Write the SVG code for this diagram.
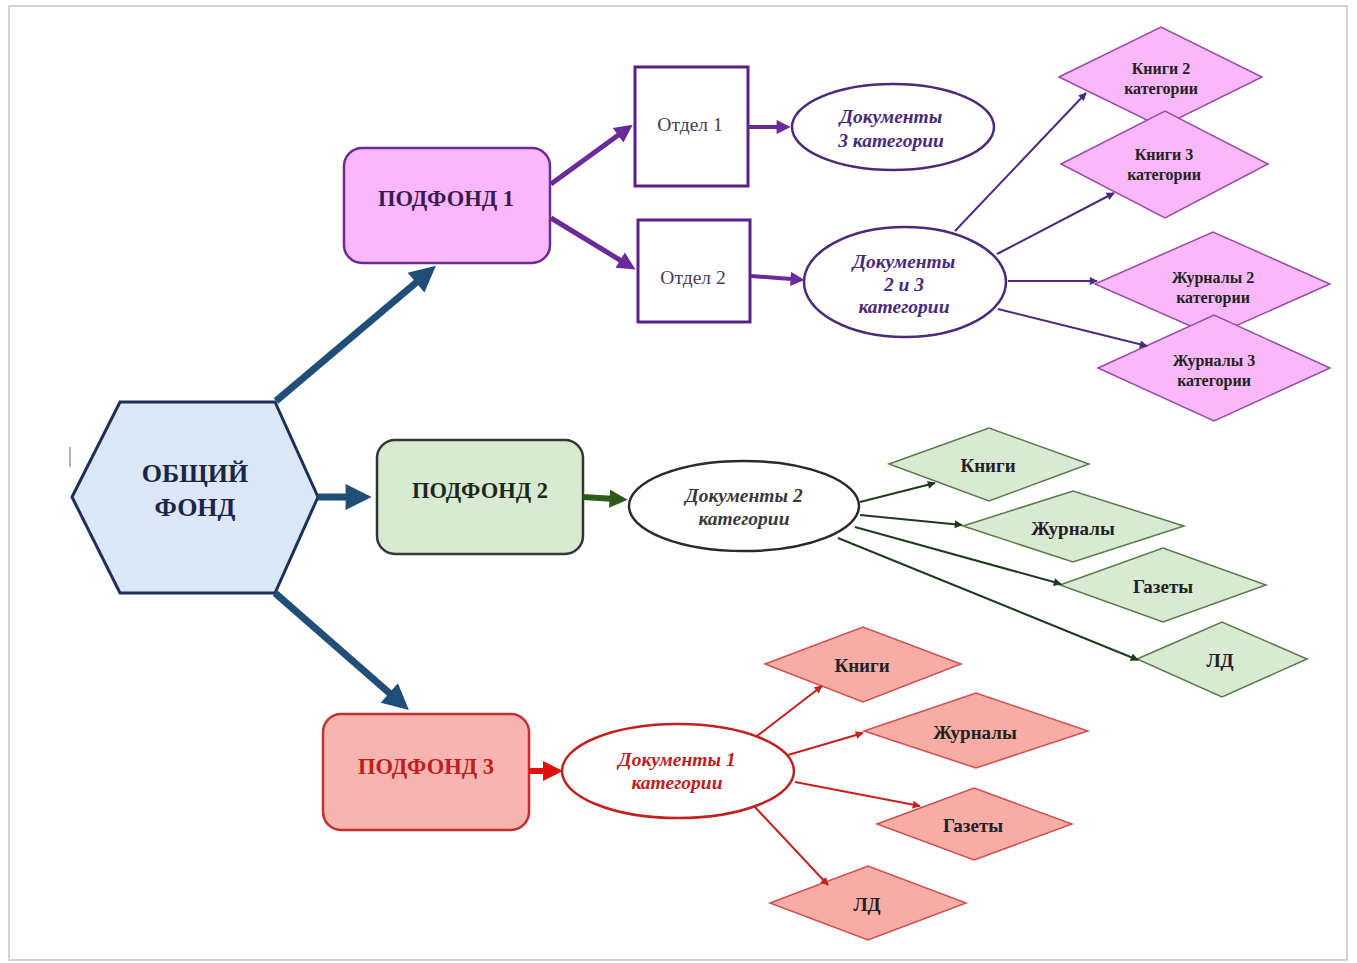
<svg xmlns="http://www.w3.org/2000/svg" width="1357" height="963" viewBox="0 0 1357 963">
<style>
.t{font-family:"Liberation Serif","Times New Roman",serif;text-anchor:middle;dominant-baseline:central}
.b{font-weight:bold}
.i{font-style:italic;font-weight:bold}
.dia{font-size:16px;font-weight:bold;fill:#222}
.dia2{font-size:19px;font-weight:bold;fill:#222}
.pd{font-size:22.5px;font-weight:bold}
.ell{font-size:19.5px}
</style>
<defs>
<marker id="mBlue" viewBox="0 0 10 10" refX="3" refY="5" markerUnits="userSpaceOnUse" markerWidth="28" markerHeight="26" orient="auto"><path d="M0,0 L10,5 L0,10 z" fill="#1f4e79"/></marker>
<marker id="mPurT" viewBox="0 0 10 10" refX="3" refY="5" markerUnits="userSpaceOnUse" markerWidth="22" markerHeight="18" orient="auto"><path d="M0,0 L10,5 L0,10 z" fill="#6a2a9a"/></marker>
<marker id="mPurM" viewBox="0 0 10 10" refX="3" refY="5" markerUnits="userSpaceOnUse" markerWidth="16" markerHeight="14" orient="auto"><path d="M0,0 L10,5 L0,10 z" fill="#6a2a9a"/></marker>
<marker id="mGrnT" viewBox="0 0 10 10" refX="3" refY="5" markerUnits="userSpaceOnUse" markerWidth="20" markerHeight="18" orient="auto"><path d="M0,0 L10,5 L0,10 z" fill="#2d5a1b"/></marker>
<marker id="mRedT" viewBox="0 0 10 10" refX="3" refY="5" markerUnits="userSpaceOnUse" markerWidth="20" markerHeight="20" orient="auto"><path d="M0,0 L10,5 L0,10 z" fill="#e01010"/></marker>
<marker id="mPur" viewBox="0 0 10 10" refX="9" refY="5" markerUnits="userSpaceOnUse" markerWidth="11" markerHeight="8" orient="auto"><path d="M0,0 L10,5 L0,10 z" fill="#4b2a7b"/></marker>
<marker id="mGrn" viewBox="0 0 10 10" refX="9" refY="5" markerUnits="userSpaceOnUse" markerWidth="11" markerHeight="8" orient="auto"><path d="M0,0 L10,5 L0,10 z" fill="#1f3a1f"/></marker>
<marker id="mRed" viewBox="0 0 10 10" refX="9" refY="5" markerUnits="userSpaceOnUse" markerWidth="11" markerHeight="8" orient="auto"><path d="M0,0 L10,5 L0,10 z" fill="#c42020"/></marker>
</defs>
<rect x="0" y="0" width="1357" height="963" fill="#ffffff"/>
<rect x="9" y="6" width="1338" height="954" fill="#ffffff" stroke="#d4d4d4" stroke-width="2"/>
<line x1="70" y1="447" x2="70" y2="467" stroke="#999" stroke-width="1.5"/>

<g id="obshchiy-fond">
<polygon points="72,497 120,402 275,402 318,497 275,593 120,593" fill="#dbe7f6" stroke="#1c3058" stroke-width="3"/>
<text class="t b" x="195" y="473" font-size="26" fill="#1a2548">ОБЩИЙ</text>
<text class="t b" x="195" y="507" font-size="26" fill="#1a2548">ФОНД</text>
</g>

<g id="podfond1">
<rect x="344" y="148" width="206" height="115" rx="18" fill="#fbb7fb" stroke="#6b2c8f" stroke-width="2.5"/>
<text class="t pd" x="446" y="198" fill="#3a1a55">ПОДФОНД 1</text>
</g>
<g id="podfond2">
<rect x="377" y="440" width="206" height="114" rx="18" fill="#d9ead3" stroke="#2e3b2e" stroke-width="2.5"/>
<text class="t pd" x="480" y="490" fill="#1a2a1a">ПОДФОНД 2</text>
</g>
<g id="podfond3">
<rect x="323" y="714" width="206" height="116" rx="18" fill="#f8b4b0" stroke="#c83030" stroke-width="2.5"/>
<text class="t pd" x="426" y="766" fill="#c0201c">ПОДФОНД 3</text>
</g>

<g id="otdel1">
<rect x="635" y="67" width="113" height="119" fill="#fff" stroke="#5b1f88" stroke-width="3"/>
<text class="t" x="690" y="124" font-size="19.5" fill="#4a3a5a">Отдел 1</text>
</g>
<g id="otdel2">
<rect x="638" y="220" width="112" height="102" fill="#fff" stroke="#5b1f88" stroke-width="3"/>
<text class="t" x="693" y="277" font-size="19.5" fill="#4a3a5a">Отдел 2</text>
</g>

<g id="doc3">
<ellipse cx="893" cy="127" rx="101" ry="43" fill="#fff" stroke="#4b2a7b" stroke-width="2.5"/>
<text class="t i ell" x="891" y="116" fill="#4b2a7b">Документы</text>
<text class="t i ell" x="891" y="140" fill="#4b2a7b">3 категории</text>
</g>
<g id="doc23">
<ellipse cx="905" cy="282" rx="101" ry="55" fill="#fff" stroke="#4b2a7b" stroke-width="2.5"/>
<text class="t i ell" x="904" y="261" fill="#4b2a7b">Документы</text>
<text class="t i ell" x="904" y="284" fill="#4b2a7b">2 и 3</text>
<text class="t i ell" x="904" y="306" fill="#4b2a7b">категории</text>
</g>

<g id="knigi2">
<polygon points="1059,77 1161,27 1262,77 1161,127" fill="#f9b9f9" stroke="#9a4aa8" stroke-width="1.5"/>
<text class="t dia" x="1161" y="68">Книги 2</text>
<text class="t dia" x="1161" y="88">категории</text>
</g>
<g id="knigi3">
<polygon points="1061,164 1165,111 1268,164 1165,218" fill="#f9b9f9" stroke="#9a4aa8" stroke-width="1.5"/>
<text class="t dia" x="1164" y="154">Книги 3</text>
<text class="t dia" x="1164" y="174">категории</text>
</g>
<g id="zhurnaly2">
<polygon points="1095,284 1213,232 1330,284 1213,336" fill="#f9b9f9" stroke="#9a4aa8" stroke-width="1.5"/>
<text class="t dia" x="1213" y="277">Журналы 2</text>
<text class="t dia" x="1213" y="297">категории</text>
</g>
<g id="zhurnaly3">
<polygon points="1098,368 1214,315 1330,368 1214,421" fill="#f9b9f9" stroke="#9a4aa8" stroke-width="1.5"/>
<text class="t dia" x="1214" y="360">Журналы 3</text>
<text class="t dia" x="1214" y="380">категории</text>
</g>

<g id="doc2">
<ellipse cx="744" cy="506" rx="115" ry="45" fill="#fff" stroke="#2a2a2a" stroke-width="2.5"/>
<text class="t i ell" x="744" y="495" fill="#3a3a3a">Документы 2</text>
<text class="t i ell" x="744" y="518" fill="#3a3a3a">категории</text>
</g>
<g id="g-knigi">
<polygon points="889,464 989,428 1089,464 989,501" fill="#d9ead3" stroke="#5a7a4a" stroke-width="1.5"/>
<text class="t dia2" x="988" y="465">Книги</text>
</g>
<g id="g-zhurnaly">
<polygon points="963,526 1073,491 1184,526 1073,562" fill="#d9ead3" stroke="#5a7a4a" stroke-width="1.5"/>
<text class="t dia2" x="1073" y="528">Журналы</text>
</g>
<g id="g-gazety">
<polygon points="1060,585 1163,548 1266,585 1163,622" fill="#d9ead3" stroke="#5a7a4a" stroke-width="1.5"/>
<text class="t dia2" x="1163" y="586">Газеты</text>
</g>
<g id="g-ld">
<polygon points="1137,659 1222,622 1307,659 1222,697" fill="#d9ead3" stroke="#5a7a4a" stroke-width="1.5"/>
<text class="t dia2" x="1220" y="660">ЛД</text>
</g>

<g id="doc1">
<ellipse cx="678" cy="771" rx="116" ry="47" fill="#fff" stroke="#c42020" stroke-width="2.5"/>
<text class="t i ell" x="677" y="759" fill="#c0201c">Документы 1</text>
<text class="t i ell" x="677" y="782" fill="#c0201c">категории</text>
</g>
<g id="r-knigi">
<polygon points="765,664 863,627 961,664 863,702" fill="#f7aca6" stroke="#d05050" stroke-width="1.5"/>
<text class="t dia2" x="862" y="665">Книги</text>
</g>
<g id="r-zhurnaly">
<polygon points="864,731 976,693 1088,731 976,768" fill="#f7aca6" stroke="#d05050" stroke-width="1.5"/>
<text class="t dia2" x="975" y="732">Журналы</text>
</g>
<g id="r-gazety">
<polygon points="877,824 974,788 1072,824 974,860" fill="#f7aca6" stroke="#d05050" stroke-width="1.5"/>
<text class="t dia2" x="973" y="825">Газеты</text>
</g>
<g id="r-ld">
<polygon points="770,903 868,866 966,903 868,940" fill="#f7aca6" stroke="#d05050" stroke-width="1.5"/>
<text class="t dia2" x="867" y="904">ЛД</text>
</g>

<g id="connectors" fill="none">
<line x1="276" y1="401" x2="422" y2="277.6" stroke="#1f4e79" stroke-width="7" marker-end="url(#mBlue)"/>
<line x1="318" y1="497" x2="353.4" y2="497" stroke="#1f4e79" stroke-width="7" marker-end="url(#mBlue)"/>
<line x1="275" y1="593" x2="395.2" y2="698.1" stroke="#1f4e79" stroke-width="7" marker-end="url(#mBlue)"/>

<line x1="551" y1="184" x2="622.5" y2="132.1" stroke="#6a2a9a" stroke-width="5" marker-end="url(#mPurT)"/>
<line x1="551" y1="218" x2="624.8" y2="263" stroke="#6a2a9a" stroke-width="5" marker-end="url(#mPurT)"/>
<line x1="748" y1="127" x2="780.8" y2="127" stroke="#6a2a9a" stroke-width="4" marker-end="url(#mPurM)"/>
<line x1="751" y1="276" x2="794.8" y2="279.2" stroke="#6a2a9a" stroke-width="4" marker-end="url(#mPurM)"/>

<line x1="955" y1="231" x2="1086" y2="93" stroke="#4b2a7b" stroke-width="2" marker-end="url(#mPur)"/>
<line x1="997" y1="254" x2="1114" y2="193" stroke="#4b2a7b" stroke-width="2" marker-end="url(#mPur)"/>
<line x1="1008" y1="281" x2="1097" y2="281" stroke="#4b2a7b" stroke-width="2" marker-end="url(#mPur)"/>
<line x1="998" y1="309" x2="1147" y2="346" stroke="#4b2a7b" stroke-width="2" marker-end="url(#mPur)"/>

<line x1="583" y1="497" x2="615" y2="499" stroke="#2d5a1b" stroke-width="6" marker-end="url(#mGrnT)"/>
<line x1="860" y1="502" x2="935" y2="483" stroke="#1f3a1f" stroke-width="2" marker-end="url(#mGrn)"/>
<line x1="860" y1="515" x2="962" y2="525" stroke="#1f3a1f" stroke-width="2" marker-end="url(#mGrn)"/>
<line x1="855" y1="527" x2="1061" y2="584" stroke="#1f3a1f" stroke-width="2" marker-end="url(#mGrn)"/>
<line x1="838" y1="538" x2="1138" y2="660" stroke="#1f3a1f" stroke-width="2" marker-end="url(#mGrn)"/>

<line x1="529" y1="771" x2="549" y2="771" stroke="#e01010" stroke-width="6" marker-end="url(#mRedT)"/>
<line x1="757" y1="736" x2="822" y2="686" stroke="#c42020" stroke-width="2" marker-end="url(#mRed)"/>
<line x1="788" y1="755" x2="863" y2="733" stroke="#c42020" stroke-width="2" marker-end="url(#mRed)"/>
<line x1="795" y1="782" x2="920" y2="806" stroke="#c42020" stroke-width="2" marker-end="url(#mRed)"/>
<line x1="754" y1="806" x2="828" y2="885" stroke="#c42020" stroke-width="2" marker-end="url(#mRed)"/>
</g>
</svg>
